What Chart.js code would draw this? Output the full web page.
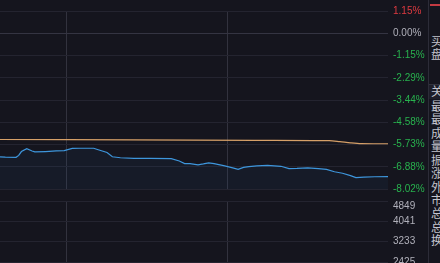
<!DOCTYPE html>
<html>
<head>
<meta charset="utf-8">
<script src="https://cdn.jsdelivr.net/npm/chart.js@4"></script>
<style>
  html, body { margin: 0; padding: 0; background: #15151e; overflow: hidden; }
  #wrap { position: relative; width: 440px; height: 263px; background: #15151e; overflow: hidden; }
  #mainBox { position: absolute; left: 0; top: 0; width: 428px; height: 200px; }
  #volBox { position: absolute; left: 0; top: 190px; width: 428px; height: 90px; }
  #side { position: absolute; left: 428px; top: 0; width: 12px; height: 263px; border-left: 1px solid #2c2c38; overflow: hidden; }
  #side .ch { position: absolute; left: 2px; font: 12px "Noto Sans CJK SC", sans-serif; color: #c4c4cc; line-height: 13px; white-space: nowrap; }
  #side .red { position: absolute; left: 1px; top: 4px; width: 12px; height: 2px; background: #c43a42; }
  #side .band { position: absolute; left: 0; top: 84px; width: 12px; height: 14px; background: #1e1e29; border-top: 1px solid #32323e; }
</style>
</head>
<body>
<div id="wrap">
  <div id="mainBox"><canvas id="mainChart" width="428" height="200"></canvas></div>
  <div id="volBox"><canvas id="volChart" width="428" height="90"></canvas></div>
  <div id="side">
    <div class="red"></div>
    <div class="band"></div>
    <div class="ch" style="top:34px">买</div>
    <div class="ch" style="top:47px">盘</div>
    <div class="ch" style="top:84px">关</div>
    <div class="ch" style="top:99px">最</div>
    <div class="ch" style="top:112px">最</div>
    <div class="ch" style="top:126px">成</div>
    <div class="ch" style="top:139px">量</div>
    <div class="ch" style="top:153px">振</div>
    <div class="ch" style="top:166px">涨</div>
    <div class="ch" style="top:180px">外</div>
    <div class="ch" style="top:193px">市</div>
    <div class="ch" style="top:206px">总</div>
    <div class="ch" style="top:220px">总</div>
    <div class="ch" style="top:233px">换</div>
  </div>
</div>
<script>
// minutes since the first visible point
var minutes = [0, 2, 6, 7, 8, 10, 12, 13, 17, 21, 24, 27, 30, 35, 37, 40, 42, 45, 50, 56,
    64, 67, 69, 71, 74, 76, 78, 80, 84, 87, 89, 91, 93, 96, 100, 105, 108, 111, 115, 119,
    122, 125, 128, 131, 133, 136, 140, 145];
// price change, %
var pricePct = [-6.36, -6.38, -6.39, -6.29, -6.09, -5.94, -6.06, -6.11, -6.09, -6.06, -6.04, -5.93, -5.92, -5.92, -6.01, -6.14, -6.36, -6.41, -6.44, -6.44,
    -6.46, -6.58, -6.71, -6.71, -6.78, -6.73, -6.67, -6.71, -6.83, -6.93, -7.01, -6.91, -6.87, -6.83, -6.80, -6.85, -6.97, -6.96, -6.93, -6.97,
    -7.01, -7.13, -7.21, -7.33, -7.43, -7.41, -7.39, -7.38];
// average price line, %
var avgMinutes = [0, 50, 95, 123, 127, 131, 135, 145];
var avgPct = [-5.47, -5.49, -5.51, -5.53, -5.58, -5.64, -5.68, -5.69];

var pctTicks = [1.15, 0.00, -1.15, -2.29, -3.44, -4.58, -5.73, -6.88, -8.02];
var volTicks = [4849, 4041, 3233, 2425];
var timeGrid = [25, 85];

var gridcolor = "rgb(36, 36, 48)";
var vgridcolor = "rgb(50, 50, 62)";
var fontFamily = '"Liberation Sans", Arial, sans-serif';

function xScale() {
    return {
        type: 'linear',
        min: 0,
        max: 145,
        offset: false,
        afterBuildTicks: function (s) {
            s.ticks = timeGrid.map(function (v) { return { value: v }; });
        },
        grid: { color: vgridcolor, drawTicks: false, offset: false },
        border: { display: false },
        ticks: { display: false }
    };
}

var mainChart = new Chart(document.getElementById('mainChart'), {
    type: 'line',
    data: {
        datasets: [{
            data: minutes.map(function (m, i) { return { x: m, y: pricePct[i] }; }),
            borderColor: 'rgb(62, 150, 220)',
            backgroundColor: 'rgba(40, 110, 190, 0.07)',
            borderWidth: 1.2,
            pointRadius: 0,
            fill: 'start',
            tension: 0
        }, {
            data: avgMinutes.map(function (m, i) { return { x: m, y: avgPct[i] }; }),
            borderColor: 'rgb(214, 160, 104)',
            borderWidth: 1.2,
            pointRadius: 0,
            fill: false,
            tension: 0.3
        }]
    },
    options: {
        responsive: false,
        animation: false,
        layout: { padding: { top: 7, bottom: 7, left: 0, right: 0 } },
        plugins: { legend: { display: false }, tooltip: { enabled: false } },
        scales: {
            x: xScale(),
            y: {
                position: 'right',
                min: -8.02,
                max: 1.15,
                afterBuildTicks: function (s) {
                    s.ticks = pctTicks.map(function (v) { return { value: v }; });
                },
                afterFit: function (s) { s.width = 40; },
                grid: {
                    drawTicks: false,
                    color: function (ctx) {
                        return ctx.tick && ctx.tick.value === 0 ? 'rgb(52, 52, 66)' : gridcolor;
                    }
                },
                border: { display: false },
                ticks: {
                    padding: 5,
                    autoSkip: false,
                    font: { family: fontFamily, size: 10 },
                    color: function (ctx) {
                        var v = ctx.tick.value;
                        if (v > 0) return 'rgb(222, 58, 64)';
                        if (v < 0) return 'rgb(40, 178, 78)';
                        return 'rgb(176, 176, 186)';
                    },
                    callback: function (v) { return v.toFixed(2) + '%'; }
                }
            }
        }
    }
});

// volume panel: only its top part is in view, the rest runs below the window
var volChart = new Chart(document.getElementById('volChart'), {
    type: 'line',
    data: { datasets: [{ data: [] }] },
    options: {
        responsive: false,
        animation: false,
        layout: { padding: { top: 11, bottom: 18, left: 0, right: 0 } },
        plugins: { legend: { display: false }, tooltip: { enabled: false } },
        scales: {
            x: xScale(),
            y: {
                position: 'right',
                min: 2425,
                max: 4849,
                afterBuildTicks: function (s) {
                    s.ticks = volTicks.map(function (v) { return { value: v }; });
                },
                afterFit: function (s) { s.width = 40; },
                grid: { drawTicks: false, color: gridcolor },
                border: { display: false },
                ticks: {
                    padding: 5,
                    autoSkip: false,
                    font: { family: fontFamily, size: 10, lineHeight: 1 },
                    color: 'rgb(176, 176, 186)',
                    // top label sits just under its line
                    callback: function (v) { return v === volTicks[0] ? ['', String(v)] : String(v); }
                }
            }
        }
    }
});
</script>
</body>
</html>
